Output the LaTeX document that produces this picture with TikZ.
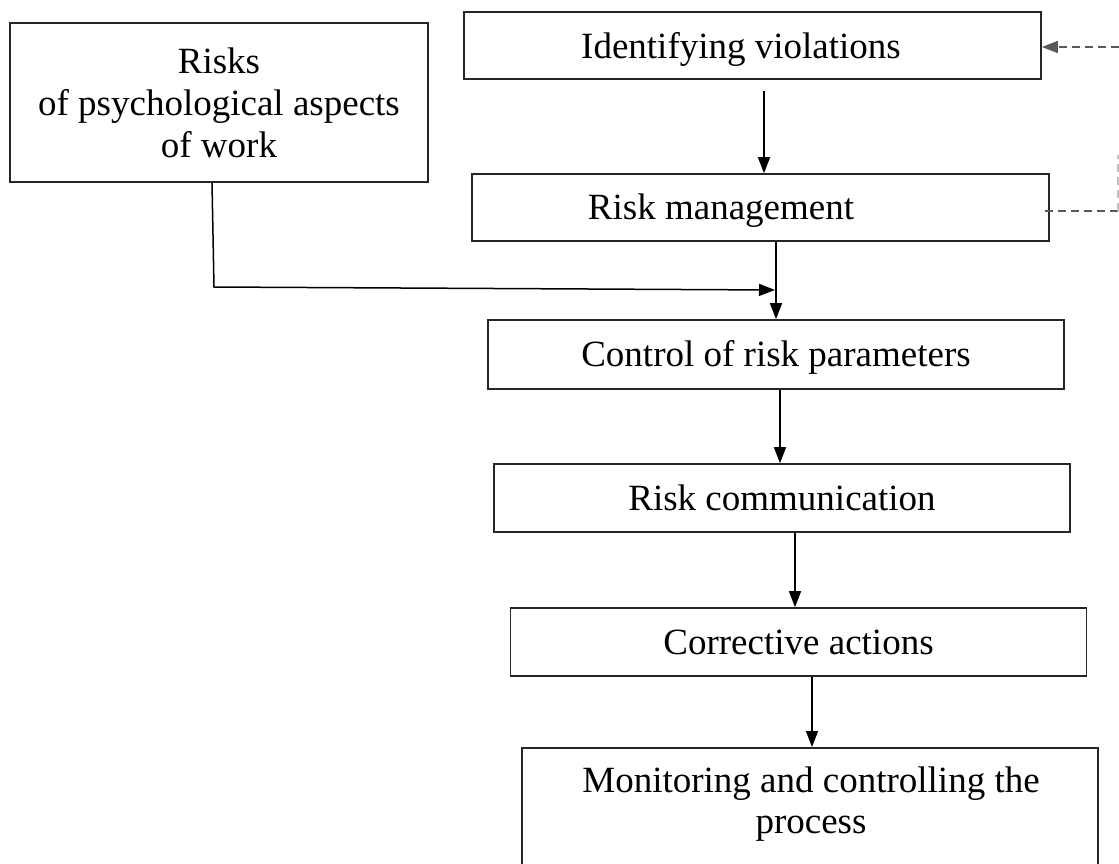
\documentclass[tikz,border=0pt]{standalone}
\usepackage{fontspec}
\setmainfont{Liberation Serif}
\usetikzlibrary{arrows.meta}
\begin{document}
\begin{tikzpicture}[x=1pt,y=-1pt,
  box/.style={draw=black!85, line width=1.7pt, rectangle, inner sep=0pt, font=\fontsize{37}{43}\selectfont, align=center},
  one/.style={text height=24pt, text depth=0pt},
  txt/.style={inner sep=0pt, font=\fontsize{37}{43}\selectfont, align=center},
  tip/.style={-{Triangle[length=16pt,width=12pt]}},
  conn/.style={draw=black, line width=1.5pt, tip},
  dashconn/.style={draw=black!65, line width=1.5pt, dash pattern=on 8pt off 5pt}]
\useasboundingbox (0,0) rectangle (1119,864);
\clip (0,0) rectangle (1119,864);

\node[box, minimum width=418pt, minimum height=159pt, font=\fontsize{37}{42}\selectfont] (risks) at (219,102.5) {Risks\\of psychological aspects\\of work};
\node[box, minimum width=577pt, minimum height=67pt] (ident) at (752.5,45.5) {};
\node[txt, one] (identtext) at (741,46.5) {Identifying violations};
\node[box, minimum width=577pt, minimum height=67pt] (mgmt) at (760.5,207.5) {};
\node[txt, one] (mgmttext) at (721,207.5) {Risk management};
\node[box, one, minimum width=576pt, minimum height=69pt] (ctrl) at (776,354.5) {Control of risk parameters};
\node[box, one, minimum width=576pt, minimum height=68pt] (comm) at (782,498) {Risk communication};
\node[box, one, minimum width=576pt, minimum height=68pt] (corr) at (798.5,642) {Corrective actions};
\node[box, minimum width=576pt, minimum height=150pt, anchor=north] (mon) at (810,747) {};
\node[txt, font=\fontsize{37}{41}\selectfont] (montext) at (811,804) {Monitoring and controlling the\\process};

\coordinate (x1) at (764,0);
\coordinate (x3) at (780,0);
\coordinate (x4) at (795,0);
\coordinate (x5) at (812,0);
\draw[conn, shorten <=11pt] (ident.south -| x1) -- (mgmt.north -| x1);
\draw[conn] (mgmt.south -| ctrl.north) -- (ctrl.north);
\draw[conn] (ctrl.south -| x3) -- (comm.north -| x3);
\draw[conn] (comm.south -| x4) -- (corr.north -| x4);
\draw[conn] (corr.south -| x5) -- (mon.north -| x5);

\coordinate (r1) at (212,0);
\coordinate (bend) at (214,287);
\coordinate (join) at (775,290);
\draw[conn] (risks.south -| r1) -- (bend) -- (join);

\coordinate (d1) at (1119,211);
\coordinate (d2) at (1118,155);
\coordinate (d3) at (1118,211);
\coordinate (d0) at (1119,47);
\draw[dashconn, shorten <=-5pt] (mgmt.east |- d1) -- (d1);
\draw[dashconn, draw=black!25] (d3) -- (d2);
\draw[dashconn, tip] (d0) -- (ident.east |- d0);
\end{tikzpicture}
\end{document}
